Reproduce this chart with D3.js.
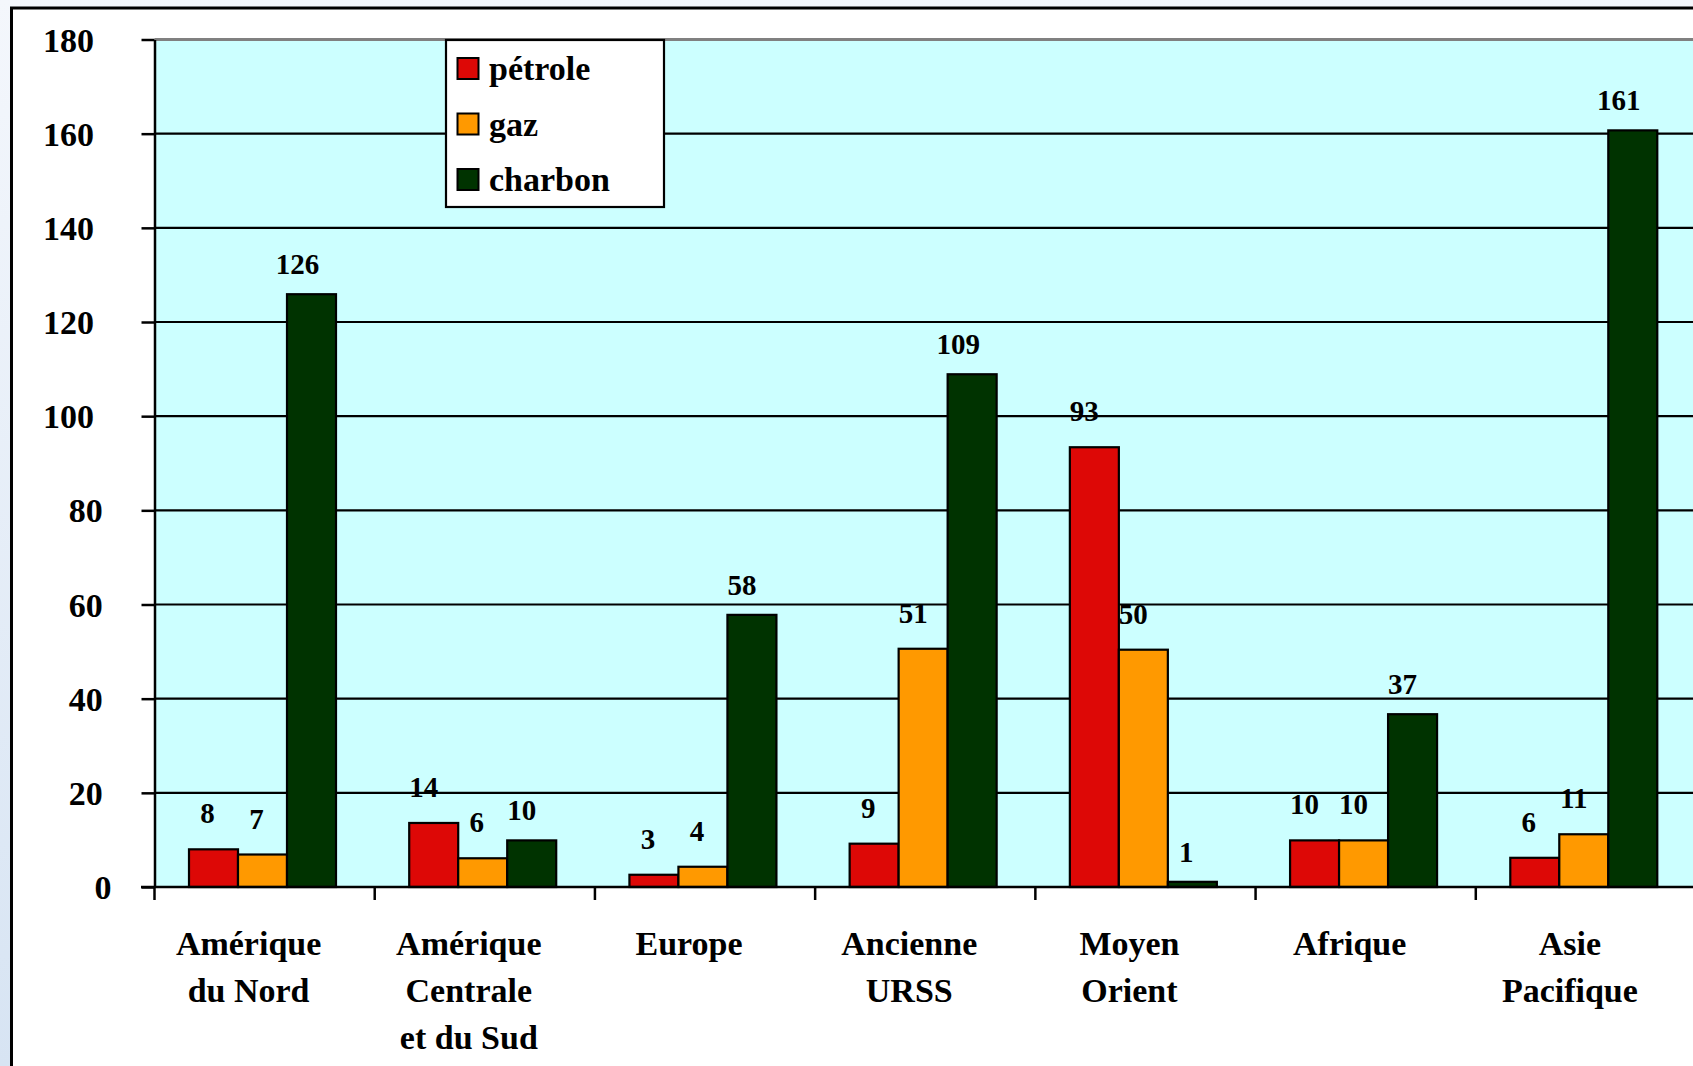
<!DOCTYPE html>
<html>
<head>
<meta charset="utf-8">
<script src="https://cdn.jsdelivr.net/npm/d3@7"></script>
<style>
  html, body { margin: 0; padding: 0; background: #eef3fa; }
  svg { display: block; }
  text { font-family: "Liberation Serif", "Times New Roman", serif; font-weight: bold; fill: #000; }
</style>
</head>
<body>
<svg id="chart" width="1693" height="1066"></svg>
<script>
const categories = [
  ["Amérique", "du Nord"],
  ["Amérique", "Centrale", "et du Sud"],
  ["Europe"],
  ["Ancienne", "URSS"],
  ["Moyen", "Orient"],
  ["Afrique"],
  ["Asie", "Pacifique"]
];
const seriesNames = ["pétrole", "gaz", "charbon"];
const petrole = [8, 13.6, 2.6, 9.2, 93.4, 9.9, 6.2];
const gaz = [6.9, 6.1, 4.3, 50.6, 50.4, 9.9, 11.2];
const charbon = [125.9, 9.9, 57.8, 108.9, 1.1, 36.7, 160.7];
const yTicks = [0, 20, 40, 60, 80, 100, 120, 140, 160, 180];
const colors = ["#dd0806", "#ff9900", "#003300"];

const seriesValues = [petrole, gaz, charbon];
const catKeys = categories.map(c => c.join(" "));
const fmt = d3.format(".0f");

const svg = d3.select("#chart");

// page background gradient
const defs = svg.append("defs");
const grad = defs.append("linearGradient").attr("id", "bg").attr("x1", 0).attr("y1", 0).attr("x2", 0).attr("y2", 1);
grad.append("stop").attr("offset", "0%").attr("stop-color", "#f4f7fc");
grad.append("stop").attr("offset", "100%").attr("stop-color", "#d7e4f3");
svg.append("rect").attr("width", 1693).attr("height", 1066).attr("fill", "url(#bg)");

// white panel with black border
svg.append("rect").attr("x", 11.5).attr("y", 8).attr("width", 1700).attr("height", 1100)
  .attr("fill", "#ffffff").attr("stroke", "#000").attr("stroke-width", 3);

const x0 = d3.scaleBand().domain(catKeys).range([154.5, 1696]).paddingInner(0).paddingOuter(0);
const x1 = d3.scaleBand().domain(seriesNames).range([34.5, 34.5 + 147]).padding(0);
const y = d3.scaleLinear().domain([0, 180]).range([887, 39.5]);

// plot background
svg.append("rect").attr("x", x0.range()[0]).attr("y", y(180))
  .attr("width", x0.range()[1] - x0.range()[0]).attr("height", y(0) - y(180))
  .attr("fill", "#ccffff");

// gridlines
svg.append("g").selectAll("line").data(yTicks.filter(t => t > 0 && t < 180)).join("line")
  .attr("x1", x0.range()[0]).attr("x2", x0.range()[1])
  .attr("y1", d => y(d)).attr("y2", d => y(d))
  .attr("stroke", "#000").attr("stroke-width", 2.2);
svg.append("line").attr("x1", x0.range()[0]).attr("x2", x0.range()[1])
  .attr("y1", y(180)).attr("y2", y(180)).attr("stroke", "#808080").attr("stroke-width", 3);

// bars
const groups = svg.append("g").selectAll("g").data(catKeys).join("g")
  .attr("transform", d => `translate(${x0(d)},0)`);
groups.selectAll("rect").data((d, i) => seriesNames.map((s, j) => ({ s, j, v: seriesValues[j][i] })))
  .join("rect")
  .attr("x", d => x1(d.s)).attr("width", x1.bandwidth())
  .attr("y", d => y(d.v)).attr("height", d => y(0) - y(d.v))
  .attr("fill", d => colors[d.j]).attr("stroke", "#000").attr("stroke-width", 2.2);

// y axis
const yAxis = d3.axisLeft(y).tickValues(yTicks).tickSize(13).tickSizeOuter(0).tickFormat(d3.format("d"));
const gy = svg.append("g").attr("transform", `translate(${x0.range()[0]},0)`).call(yAxis);
gy.select(".domain").attr("stroke", "#000").attr("stroke-width", 2.5);
gy.selectAll(".tick line").attr("stroke", "#000").attr("stroke-width", 2.5);
gy.selectAll(".tick text")
  .attr("font-size", 34).attr("font-family", null)
  .attr("x", d => -60.5 + 8.7 * (3 - String(d).length))
  .attr("dy", "0.34em");

// x axis
svg.append("line").attr("x1", 141).attr("x2", x0.range()[1]).attr("y1", y(0)).attr("y2", y(0))
  .attr("stroke", "#000").attr("stroke-width", 2.5);
const boundaries = catKeys.map(k => x0(k)).concat([x0.range()[1]]);
svg.append("g").selectAll("line").data(boundaries).join("line")
  .attr("x1", d => d).attr("x2", d => d).attr("y1", y(0)).attr("y2", y(0) + 13)
  .attr("stroke", "#000").attr("stroke-width", 2.5);

// category labels
const catG = svg.append("g").selectAll("text").data(categories).join("text")
  .attr("text-anchor", "middle").attr("font-size", 34)
  .attr("x", (d, i) => x0(catKeys[i]) + x0.bandwidth() / 2 - 16)
  .attr("y", 955);
catG.selectAll("tspan").data(d => d).join("tspan")
  .attr("x", function () { return d3.select(this.parentNode).attr("x"); })
  .attr("dy", (d, i) => i === 0 ? 0 : 47)
  .text(d => d);

// value labels
groups.selectAll("text.val").data((d, i) => seriesNames.map((s, j) => ({ s, j, v: seriesValues[j][i] })))
  .join("text").attr("class", "val")
  .attr("font-size", 29).attr("text-anchor", "middle")
  .attr("x", d => x1(d.s) + x1.bandwidth() / 2 - (2 + 4 * fmt(d.v).length))
  .attr("y", d => y(d.v) - (d.j === 2 ? 20 : 26))
  .text(d => fmt(d.v));

// legend
const lg = svg.append("g");
lg.append("rect").attr("x", 446).attr("y", 40).attr("width", 218).attr("height", 167)
  .attr("fill", "#fff").attr("stroke", "#000").attr("stroke-width", 2.2);
const items = lg.selectAll("g").data(seriesNames).join("g")
  .attr("transform", (d, i) => `translate(0, ${80 + i * 55.5})`);
items.append("rect").attr("x", 457.5).attr("y", -22).attr("width", 21).attr("height", 21)
  .attr("fill", (d, i) => colors[i]).attr("stroke", "#000").attr("stroke-width", 2);
items.append("text").attr("x", 489).attr("y", 0).attr("font-size", 34).text(d => d);
</script>
</body>
</html>
